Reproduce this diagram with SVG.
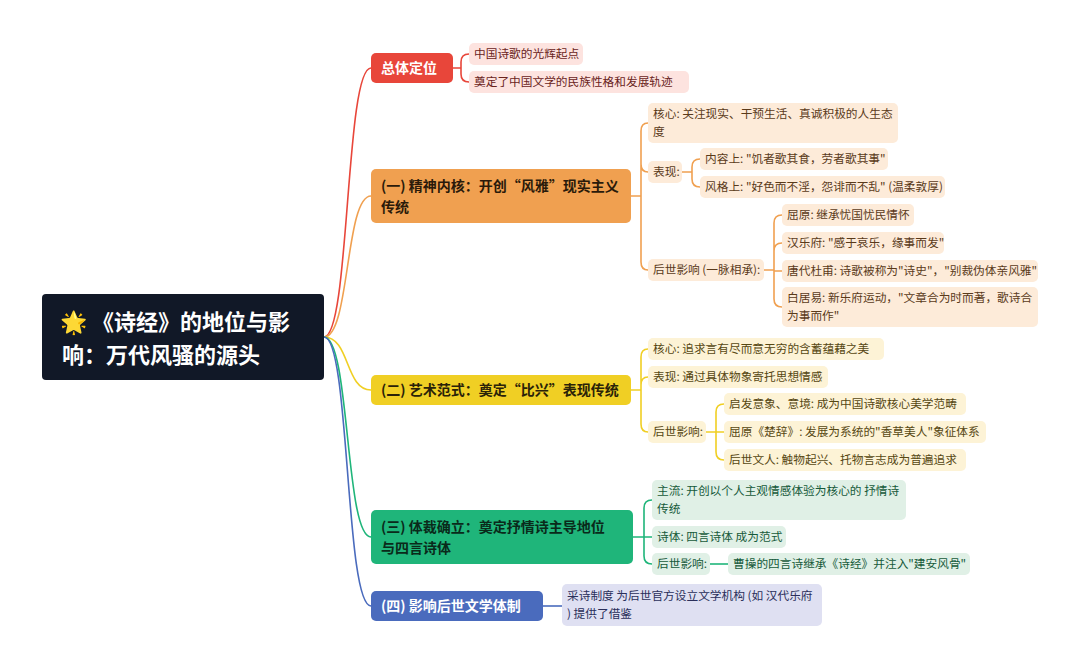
<svg xmlns="http://www.w3.org/2000/svg" width="1080" height="669" viewBox="0 0 1080 669">
<style>
text{font-family:"Noto Sans CJK SC","Liberation Sans",sans-serif}
.b{font-size:14px;font-weight:bold}
.l{font-size:11.7px}
.c{fill:none;stroke-width:1.6}
.r{stroke:#e8463a}.o{stroke:#f0a050}.y{stroke:#f0cf24}.g{stroke:#1fb57a}.u{stroke:#4a6bbd}
.lr{fill:#fde3df}.lo{fill:#fdebd9}.ly{fill:#fdf3d6}.lg{fill:#e0f0e6}.lu{fill:#dfe0f2}
.tr{fill:#6a231c}.to{fill:#5a3a1a}.ty{fill:#564712}.tg{fill:#165a3a}.tu{fill:#2a2f5a}
</style>
<rect width="1080" height="669" fill="#fff"/>
<g id="connectors">
<path class="c r" d="M324,337 C350,337 345,68 371,68"/>
<path class="c o" d="M324,337 C350,337 345,196 371,196"/>
<path class="c y" d="M324,337 C350,337 345,390 371,390"/>
<path class="c g" d="M324,337 C350,337 345,537 371,537"/>
<path class="c u" d="M324,337 C350,337 345,606 371,606"/>
<path class="c r" d="M453,68H461V62Q461,54 469,54M461,68V74Q461,82 469,82"/>
<path class="c o" d="M631,196H641V131Q641,123 648,123M641,196V164Q641,172 648,172M641,196V262Q641,270 648,270"/>
<path class="c o" d="M682,172H692V167Q692,159 700,159M692,172V179Q692,187 700,187"/>
<path class="c o" d="M764,270H774V223Q774,215 782,215M774,270V251Q774,243 782,243M774,270V271H782M774,270V299Q774,307 782,307"/>
<path class="c y" d="M631,390H641V357Q641,349 648,349M641,390V385Q641,377 648,377M641,390V424Q641,432 648,432"/>
<path class="c y" d="M706,432H716V412Q716,404 724,404M716,432H724M716,432V452Q716,460 724,460"/>
<path class="c g" d="M633,537H644V508Q644,500 652,500M644,537H652M644,537V556Q644,564 652,564"/>
<path class="c g" d="M710,564H728"/>
<path class="c u" d="M543,606H562"/>
</g>
<g id="root">
<rect x="42" y="294" width="282" height="86" rx="4" fill="#111827"/>
<text x="60" y="330" font-size="22" font-weight="bold" fill="#fff">🌟 《诗经》的地位与影</text>
<text x="62" y="363" font-size="22" font-weight="bold" fill="#fff">响：万代风骚的源头</text>
</g>
<g id="n1"><rect x="371" y="53" width="82" height="30" rx="5" fill="#e8463a"/><text class="b" x="381" y="73" fill="#fff">总体定位</text></g>
<g id="n2"><rect x="371" y="169" width="260" height="54" rx="5" fill="#f0a050"/><text class="b" x="381" y="191" fill="#2a1a0a">(一) 精神内核：开创“风雅”现实主义</text><text class="b" x="381" y="212" fill="#2a1a0a">传统</text></g>
<g id="n3"><rect x="371" y="375" width="260" height="30" rx="5" fill="#f0cf24"/><text class="b" x="381" y="395" fill="#2a2208">(二) 艺术范式：奠定“比兴”表现传统</text></g>
<g id="n4"><rect x="371" y="510" width="262" height="54" rx="5" fill="#1fb57a"/><text class="b" x="381" y="532" fill="#0a2a1a">(三) 体裁确立：奠定抒情诗主导地位</text><text class="b" x="381" y="553" fill="#0a2a1a">与四言诗体</text></g>
<g id="n5"><rect x="371" y="591" width="172" height="30" rx="5" fill="#4a6bbd"/><text class="b" x="381" y="611" fill="#fff">(四) 影响后世文学体制</text></g>
<g id="l1"><rect class="lr" x="469" y="43" width="114" height="22" rx="5"/><text class="l tr" x="474" y="58">中国诗歌的光辉起点</text></g>
<g id="l2"><rect class="lr" x="469" y="71" width="220" height="22" rx="5"/><text class="l tr" x="474" y="86">奠定了中国文学的民族性格和发展轨迹</text></g>
<g id="l3"><rect class="lo" x="648" y="103" width="250" height="40" rx="5"/><text class="l to" x="653" y="118">核心: 关注现实、干预生活、真诚积极的人生态</text><text class="l to" x="653" y="136">度</text></g>
<g id="l4"><rect class="lo" x="648" y="161" width="34" height="22" rx="5"/><text class="l to" x="653" y="176">表现:</text></g>
<g id="l5"><rect class="lo" x="700" y="148" width="188" height="22" rx="5"/><text class="l to" x="705" y="163">内容上: "饥者歌其食，劳者歌其事"</text></g>
<g id="l6"><rect class="lo" x="700" y="176" width="245" height="22" rx="5"/><text class="l to" x="705" y="191">风格上: "好色而不淫，怨诽而不乱" (温柔敦厚)</text></g>
<g id="l7"><rect class="lo" x="648" y="259" width="116" height="22" rx="5"/><text class="l to" x="653" y="274">后世影响 (一脉相承):</text></g>
<g id="l8"><rect class="lo" x="782" y="204" width="132" height="22" rx="5"/><text class="l to" x="787" y="219">屈原: 继承忧国忧民情怀</text></g>
<g id="l9"><rect class="lo" x="782" y="232" width="162" height="22" rx="5"/><text class="l to" x="787" y="247">汉乐府: "感于哀乐，缘事而发"</text></g>
<g id="l10"><rect class="lo" x="782" y="260" width="256" height="22" rx="5"/><text class="l to" x="787" y="275">唐代杜甫: 诗歌被称为"诗史"，"别裁伪体亲风雅"</text></g>
<g id="l11"><rect class="lo" x="782" y="287" width="256" height="40" rx="5"/><text class="l to" x="787" y="302">白居易: 新乐府运动，"文章合为时而著，歌诗合</text><text class="l to" x="787" y="320">为事而作"</text></g>
<g id="l12"><rect class="ly" x="648" y="338" width="236" height="22" rx="5"/><text class="l ty" x="653" y="353">核心: 追求言有尽而意无穷的含蓄蕴藉之美</text></g>
<g id="l13"><rect class="ly" x="648" y="366" width="180" height="22" rx="5"/><text class="l ty" x="653" y="381">表现: 通过具体物象寄托思想情感</text></g>
<g id="l14"><rect class="ly" x="648" y="421" width="58" height="22" rx="5"/><text class="l ty" x="653" y="436">后世影响:</text></g>
<g id="l15"><rect class="ly" x="724" y="393" width="242" height="22" rx="5"/><text class="l ty" x="729" y="408">启发意象、意境: 成为中国诗歌核心美学范畴</text></g>
<g id="l16"><rect class="ly" x="724" y="421" width="262" height="22" rx="5"/><text class="l ty" x="729" y="436">屈原《楚辞》: 发展为系统的"香草美人"象征体系</text></g>
<g id="l17"><rect class="ly" x="724" y="449" width="242" height="22" rx="5"/><text class="l ty" x="729" y="464">后世文人: 触物起兴、托物言志成为普遍追求</text></g>
<g id="l18"><rect class="lg" x="652" y="480" width="254" height="40" rx="5"/><text class="l tg" x="657" y="495">主流: 开创以个人主观情感体验为核心的 抒情诗</text><text class="l tg" x="657" y="513">传统</text></g>
<g id="l19"><rect class="lg" x="652" y="526" width="134" height="22" rx="5"/><text class="l tg" x="657" y="541">诗体: 四言诗体 成为范式</text></g>
<g id="l20"><rect class="lg" x="652" y="553" width="58" height="22" rx="5"/><text class="l tg" x="657" y="568">后世影响:</text></g>
<g id="l21"><rect class="lg" x="728" y="553" width="242" height="22" rx="5"/><text class="l tg" x="733" y="568">曹操的四言诗继承《诗经》并注入"建安风骨"</text></g>
<g id="l22"><rect class="lu" x="562" y="584" width="260" height="42" rx="5"/><text class="l tu" x="567" y="600">采诗制度 为后世官方设立文学机构 (如 汉代乐府</text><text class="l tu" x="567" y="618">) 提供了借鉴</text></g>
</svg>
